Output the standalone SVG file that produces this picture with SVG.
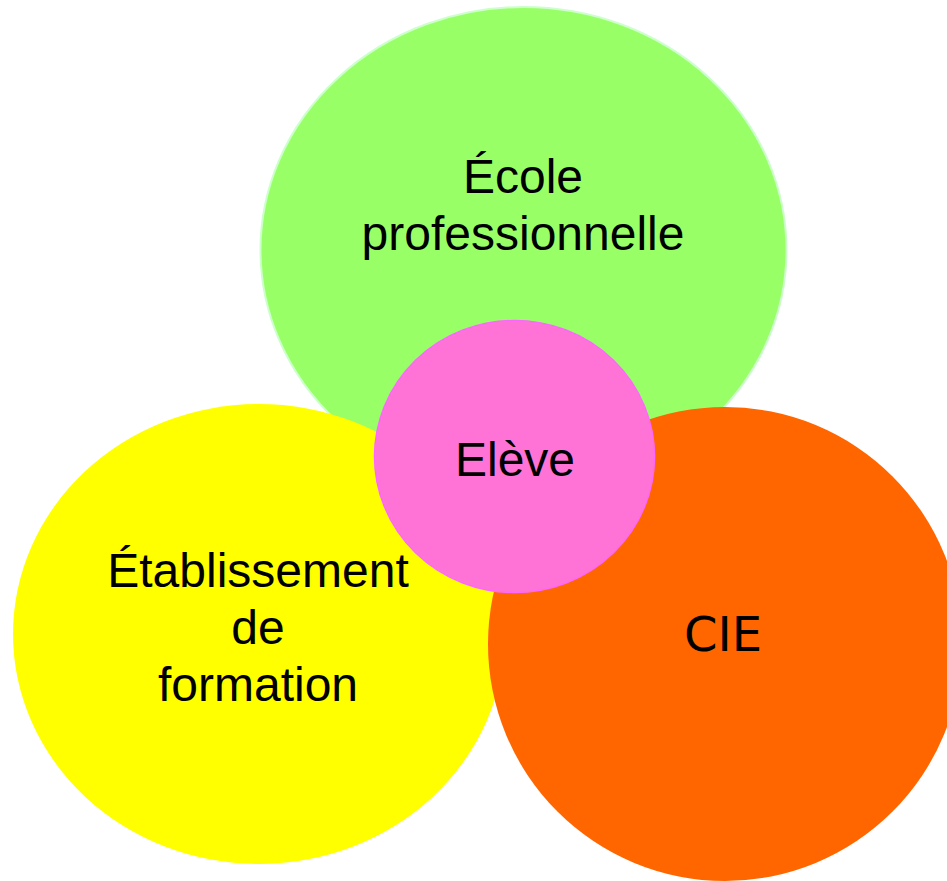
<svg xmlns="http://www.w3.org/2000/svg" width="947" height="881" viewBox="0 0 947 881">
<style>
.lbl{font-family:"Liberation Sans",Arial,sans-serif;font-size:48px;fill:#000;text-anchor:middle}
.cie{font-family:"DejaVu Sans",sans-serif;font-size:48px;fill:#000;text-anchor:middle}
</style>
<rect width="947" height="881" fill="#fff"/>
<g id="ecole">
<ellipse cx="523.5" cy="250" rx="263" ry="243" fill="#99ff66" stroke="#ccffcc" stroke-width="2"/>
<text class="lbl" x="523" y="193">École</text>
<text class="lbl" x="523" y="250">professionnelle</text>
</g>
<g id="etablissement">
<ellipse cx="259" cy="634" rx="246" ry="230" fill="#ffff00"/>
<text class="lbl" x="258" y="587">Établissement</text>
<text class="lbl" x="258" y="644">de</text>
<text class="lbl" x="258" y="701">formation</text>
</g>
<g id="cie">
<ellipse cx="725" cy="644" rx="237" ry="237" fill="#ff6600"/>
<text class="cie" x="723" y="651">CIE</text>
</g>
<g id="eleve">
<ellipse cx="514.5" cy="456.5" rx="140" ry="136" fill="#ff73d6" stroke="#ff66ff" stroke-width="1.5"/>
<text class="lbl" x="515" y="476">Elève</text>
</g>
<g id="connectors"/>
</svg>
